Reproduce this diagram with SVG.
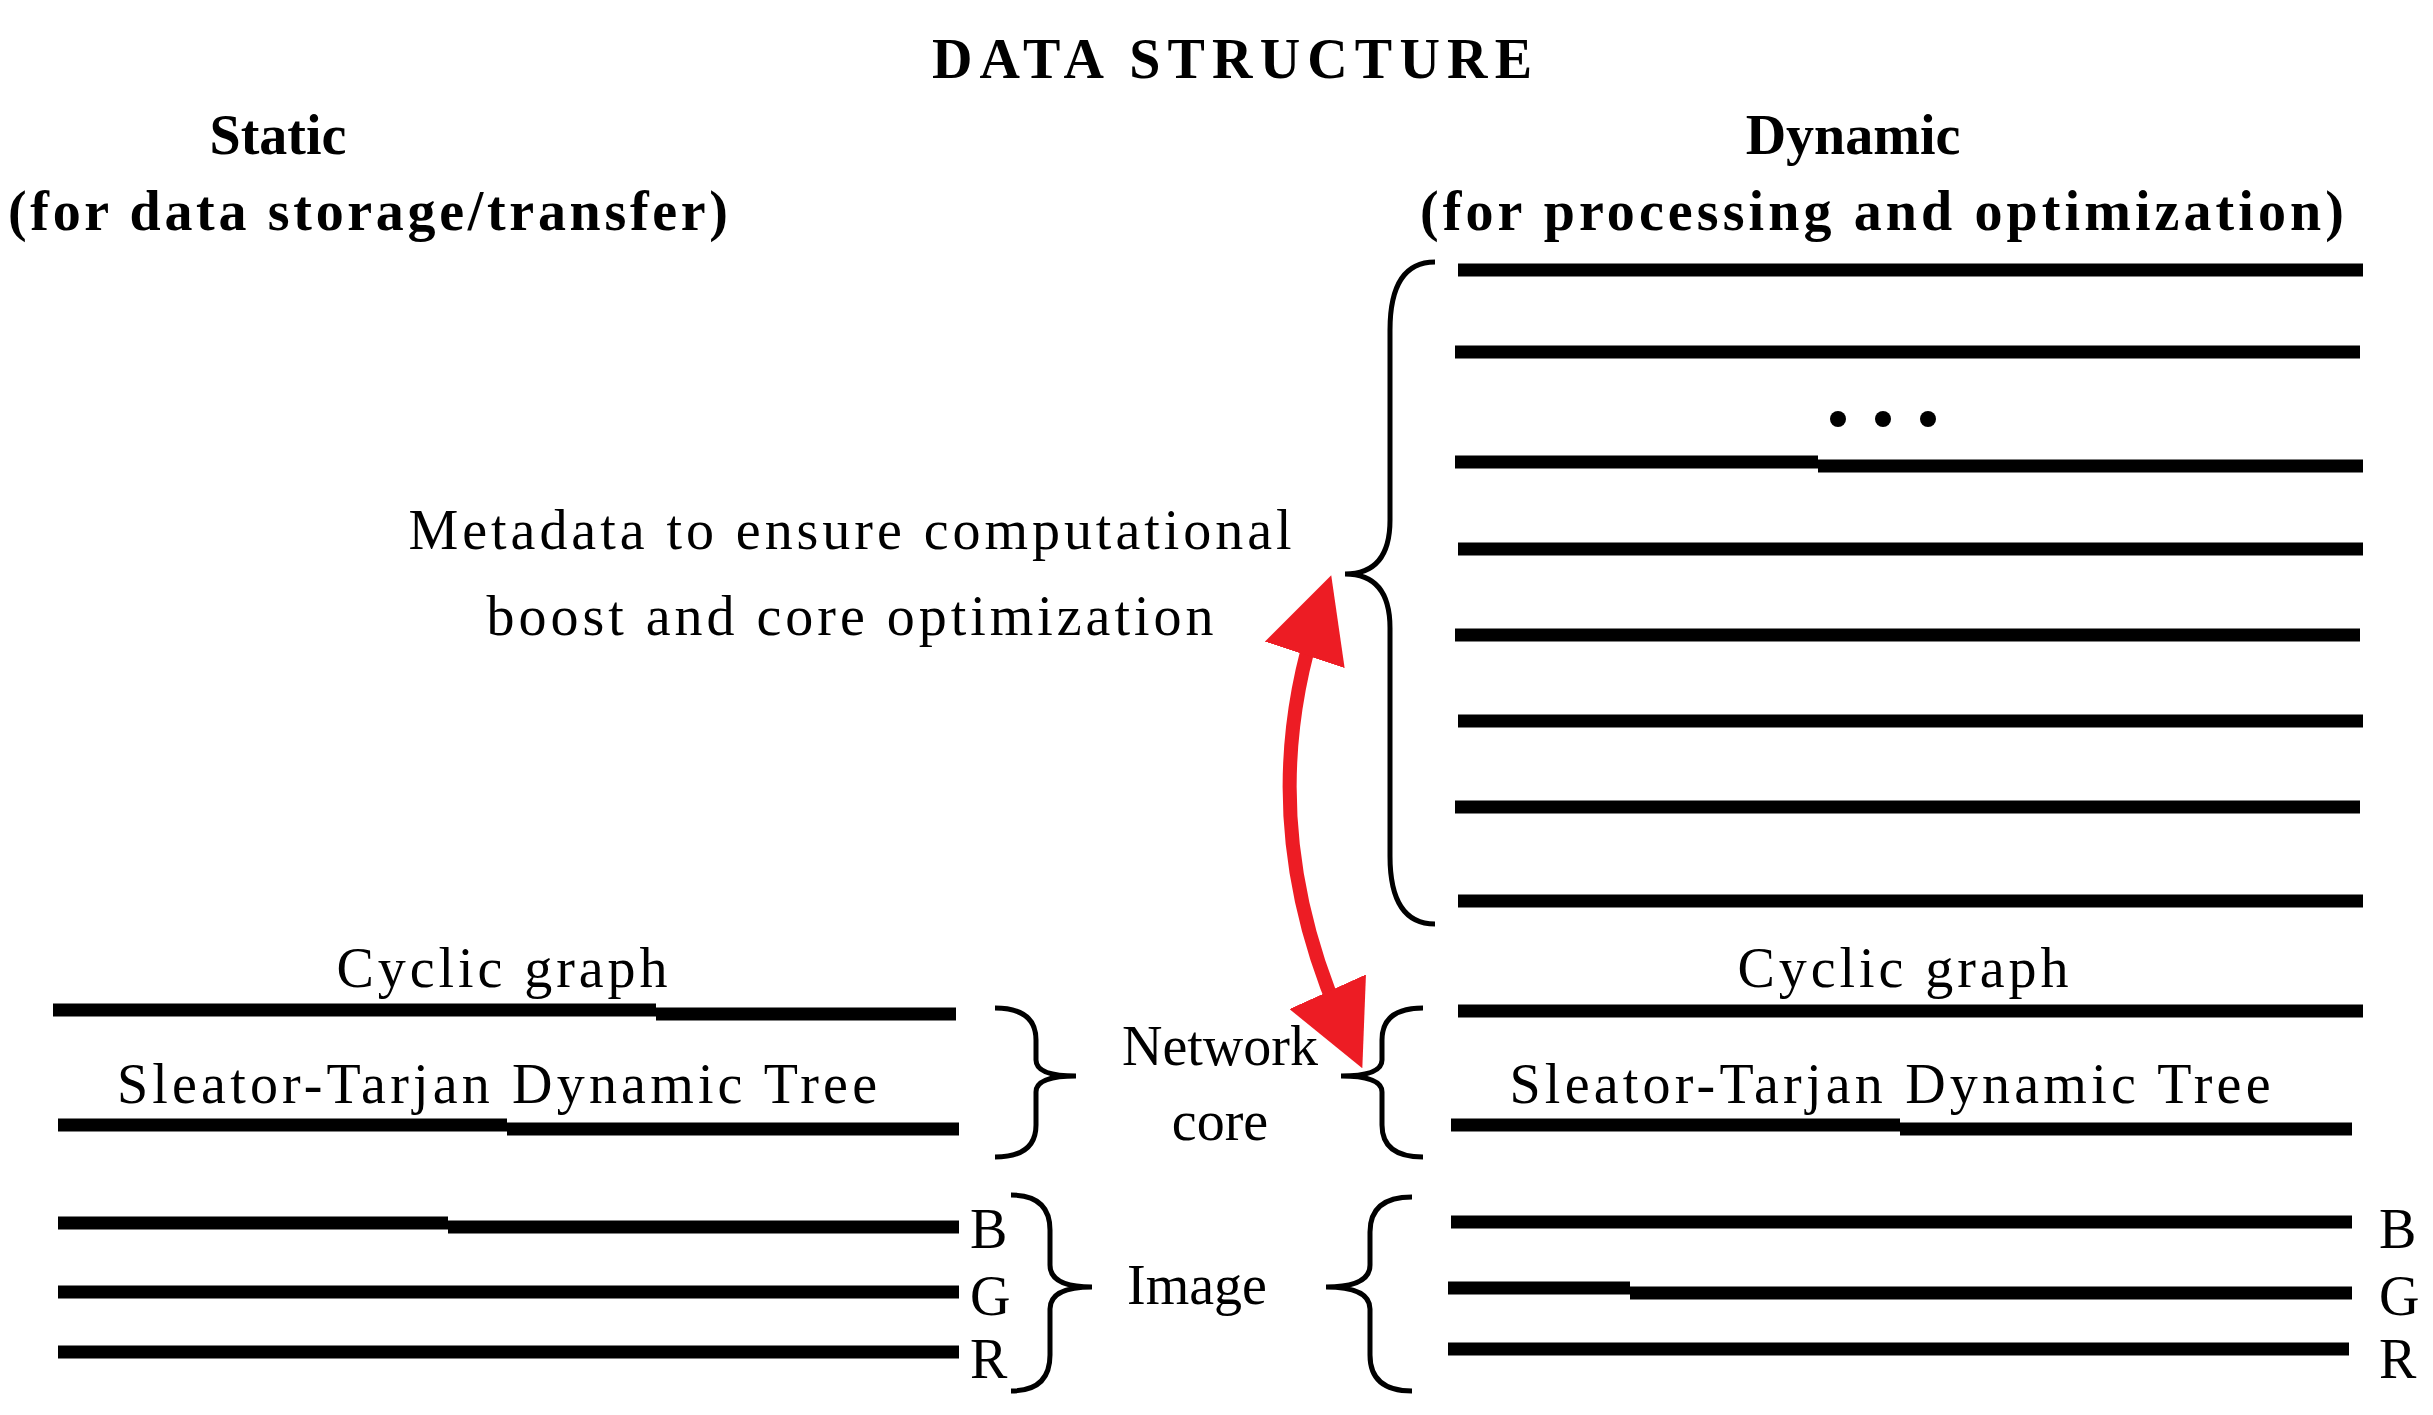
<svg xmlns="http://www.w3.org/2000/svg" width="2433" height="1415" viewBox="0 0 2433 1415">
<style>
.t{font-family:"Liberation Serif",serif;font-size:56px;fill:#000}
.b{font-family:"Liberation Serif",serif;font-weight:bold;font-size:56px;fill:#000}
.l{stroke:#000;stroke-width:13;fill:none}
.br{stroke:#000;stroke-width:5;fill:none}
</style>
<defs>
<marker id="ah" markerWidth="6" markerHeight="6" refX="3" refY="3" orient="auto-start-reverse" markerUnits="strokeWidth"><path d="M0,0 L6,3 L0,6 z" fill="#ed1c24"/></marker>
</defs>
<rect width="2433" height="1415" fill="#fff"/>
<g id="titles">
<text class="b" x="1232" y="78" text-anchor="middle" textLength="600">DATA STRUCTURE</text>
<text class="b" x="278" y="154" text-anchor="middle">Static</text>
<text class="b" x="368" y="230" text-anchor="middle" textLength="720">(for data storage/transfer)</text>
<text class="b" x="1853" y="154" text-anchor="middle">Dynamic</text>
<text class="b" x="1882" y="230" text-anchor="middle" textLength="924">(for processing and optimization)</text>
</g>
<g id="dynamic-lines">
<path class="l" d="M1458 270H2363M1455 352H2360M1455 462H1818M1818 466H2363M1458 549H2363M1455 635H2360M1458 721H2363M1455 807H2360M1458 901H2363"/>
<circle cx="1838" cy="419" r="8"/><circle cx="1883" cy="419" r="8"/><circle cx="1928" cy="419" r="8"/>
</g>
<g id="metadata">
<path class="br" d="M1435 262 Q1390 262 1390 330 L1390 520 Q1390 574 1345 574 Q1390 574 1390 628 L1390 856 Q1390 924 1435 924"/>
<text class="t" x="850" y="549" text-anchor="middle" textLength="883">Metadata to ensure computational</text>
<text class="t" x="850" y="635" text-anchor="middle" textLength="727">boost and core optimization</text>
</g>
<g id="connectors">
<path d="M1318 615 Q1250 820 1345 1030" stroke="#ed1c24" stroke-width="14" fill="none" marker-start="url(#ah)" marker-end="url(#ah)"/>
</g>
<g id="static-network">
<text class="t" x="502" y="987" text-anchor="middle" textLength="331">Cyclic graph</text>
<path class="l" d="M53 1010H656M656 1014H956M58 1125H507M507 1129H959"/>
<text class="t" x="497" y="1103" text-anchor="middle" textLength="760">Sleator-Tarjan Dynamic Tree</text>
<path class="br" d="M995 1008 Q1036 1008 1036 1040 L1036 1060 Q1036 1076 1076 1076 Q1036 1076 1036 1092 L1036 1125 Q1036 1157 995 1157"/>
</g>
<g id="network-core">
<text class="t" x="1220" y="1065" text-anchor="middle">Network</text>
<text class="t" x="1220" y="1140" text-anchor="middle">core</text>
</g>
<g id="dynamic-network">
<path class="br" d="M1423 1008 Q1382 1008 1382 1040 L1382 1060 Q1382 1076 1341 1076 Q1382 1076 1382 1092 L1382 1125 Q1382 1157 1423 1157"/>
<text class="t" x="1903" y="987" text-anchor="middle" textLength="331">Cyclic graph</text>
<path class="l" d="M1458 1011H2363M1451 1125H1900M1900 1129H2352"/>
<text class="t" x="1890" y="1103" text-anchor="middle" textLength="761">Sleator-Tarjan Dynamic Tree</text>
</g>
<g id="static-image">
<path class="l" d="M58 1223H448M448 1227H959M58 1292H959M58 1352H959"/>
<text class="t" x="970" y="1248">B</text>
<text class="t" x="970" y="1315">G</text>
<text class="t" x="970" y="1378">R</text>
<path class="br" d="M1011 1195 Q1050 1195 1050 1230 L1050 1265 Q1050 1287 1092 1287 Q1050 1287 1050 1309 L1050 1355 Q1050 1391 1011 1391"/>
<text class="t" x="1197" y="1304" text-anchor="middle">Image</text>
</g>
<g id="dynamic-image">
<path class="br" d="M1412 1197 Q1370 1197 1370 1232 L1370 1265 Q1370 1287 1326 1287 Q1370 1287 1370 1309 L1370 1355 Q1370 1391 1412 1391"/>
<path class="l" d="M1451 1222H2352M1448 1288H1630M1630 1293H2352M1448 1349H2349"/>
<text class="t" x="2379" y="1248">B</text>
<text class="t" x="2379" y="1315">G</text>
<text class="t" x="2379" y="1378">R</text>
</g>
</svg>
